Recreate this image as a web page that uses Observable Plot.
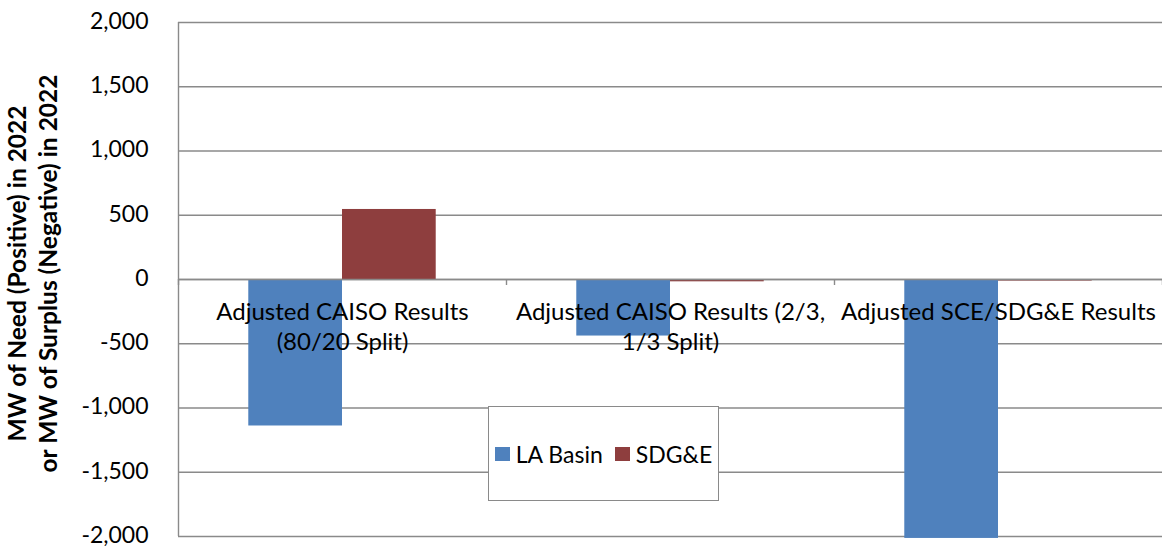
<!DOCTYPE html>
<html><head><meta charset="utf-8">
<script src="https://cdn.jsdelivr.net/npm/d3@7"></script>
<script src="https://cdn.jsdelivr.net/npm/@observablehq/plot@0.6"></script>
<style>
body{margin:0;background:#fff;}
#wrap{position:relative;width:1162px;height:546px;font-family:Lato, sans-serif;color:#000;}
#legend{position:absolute;left:488px;top:406px;width:229px;height:93px;border:1.5px solid #8a8a8a;background:#fff;display:flex;align-items:center;justify-content:center;gap:12px;font-size:23px;white-space:nowrap;}
#legend .item{display:flex;align-items:center;white-space:nowrap;}
#legend .sw{display:inline-block;width:15px;height:14px;margin-right:6px;flex:none;}
</style></head><body><div id="wrap"></div>
<script>
const categories = ["Adjusted CAISO Results (80/20 Split)", "Adjusted CAISO Results (2/3, 1/3 Split)", "Adjusted SCE/SDG&E Results"];
const categoryLabels = ["Adjusted CAISO Results\n(80/20 Split)", "Adjusted CAISO Results (2/3,\n1/3 Split)", "Adjusted SCE/SDG&E Results"];
const series = ["LA Basin", "SDG&E"];
const laBasin = [-1140, -440, -2015];
const sdge = [545, -18, -12];
const seriesColors = ["#4F81BD", "#8E3E3E"];
const yTicks = [-2000, -1500, -1000, -500, 0, 500, 1000, 1500, 2000];
const yTitle = "MW of Need (Positive) in 2022\nor MW of Surplus (Negative) in 2022";

const gapWidth = 1.5;
const barW = 1 / (series.length + gapWidth);
const rows = [];
[laBasin, sdge].forEach((vals, s) => vals.forEach((v, i) => rows.push({i, s, series: series[s], value: v})));

const grid = "#8a8a8a";
const fmt = d => d3.format(",")(d).replace("\u2212", "-");

const chart = Plot.plot({
  width: 1162, height: 546,
  marginLeft: 178, marginRight: 0, marginTop: 22, marginBottom: 10,
  style: {fontFamily: "Lato, sans-serif", background: "#fff", color: "#000", overflow: "visible"},
  x: {domain: [0, categories.length], axis: null},
  y: {domain: [-2000, 2000]},
  color: {domain: series, range: seriesColors},
  marks: [
    Plot.ruleY(yTicks, {stroke: grid, strokeWidth: 1.4, strokeOpacity: 1}),
    Plot.ruleX([0], {stroke: grid, strokeWidth: 1.4, strokeOpacity: 1}),
    Plot.rect(rows, {
      x1: d => d.i + (gapWidth / 2 + d.s) * barW,
      x2: d => d.i + (gapWidth / 2 + d.s + 1) * barW,
      y1: () => 0, y2: "value", fill: "series"
    }),
    Plot.ruleY([0], {stroke: grid, strokeWidth: 1.4, strokeOpacity: 1}),
    Plot.ruleX(d3.range(categories.length + 1), {y1: () => 0, y2: () => 0, insetBottom: -6, stroke: grid, strokeWidth: 1.4, strokeOpacity: 1}),
    Plot.axisY({ticks: yTicks, tickSize: 0, tickPadding: 30, tickFormat: fmt, fontSize: 23, dy: -1, label: null}),
    Plot.text(categories, {
      x: (d, i) => i + 0.5, y: () => 0, text: (d, i) => categoryLabels[i],
      lineAnchor: "top", dy: 20, fontSize: 24, lineHeight: 1.23, fill: "#000"
    }),
    Plot.text([yTitle], {
      frameAnchor: "left", textAnchor: "middle", dx: -147, dy: -6, rotate: -90, fontWeight: "bold", fontSize: 24.5,
      lineAnchor: "middle", lineHeight: 1.26, fill: "#000"
    })
  ]
});
const wrap = document.getElementById("wrap");
wrap.appendChild(chart);
const legend = document.createElement("div");
legend.id = "legend";
series.forEach((s, k) => {
  const item = document.createElement("span");
  item.className = "item";
  const sw = document.createElement("span");
  sw.className = "sw";
  sw.style.background = seriesColors[k];
  item.appendChild(sw);
  item.appendChild(document.createTextNode(s));
  legend.appendChild(item);
});
wrap.appendChild(legend);
</script>
</body></html>
